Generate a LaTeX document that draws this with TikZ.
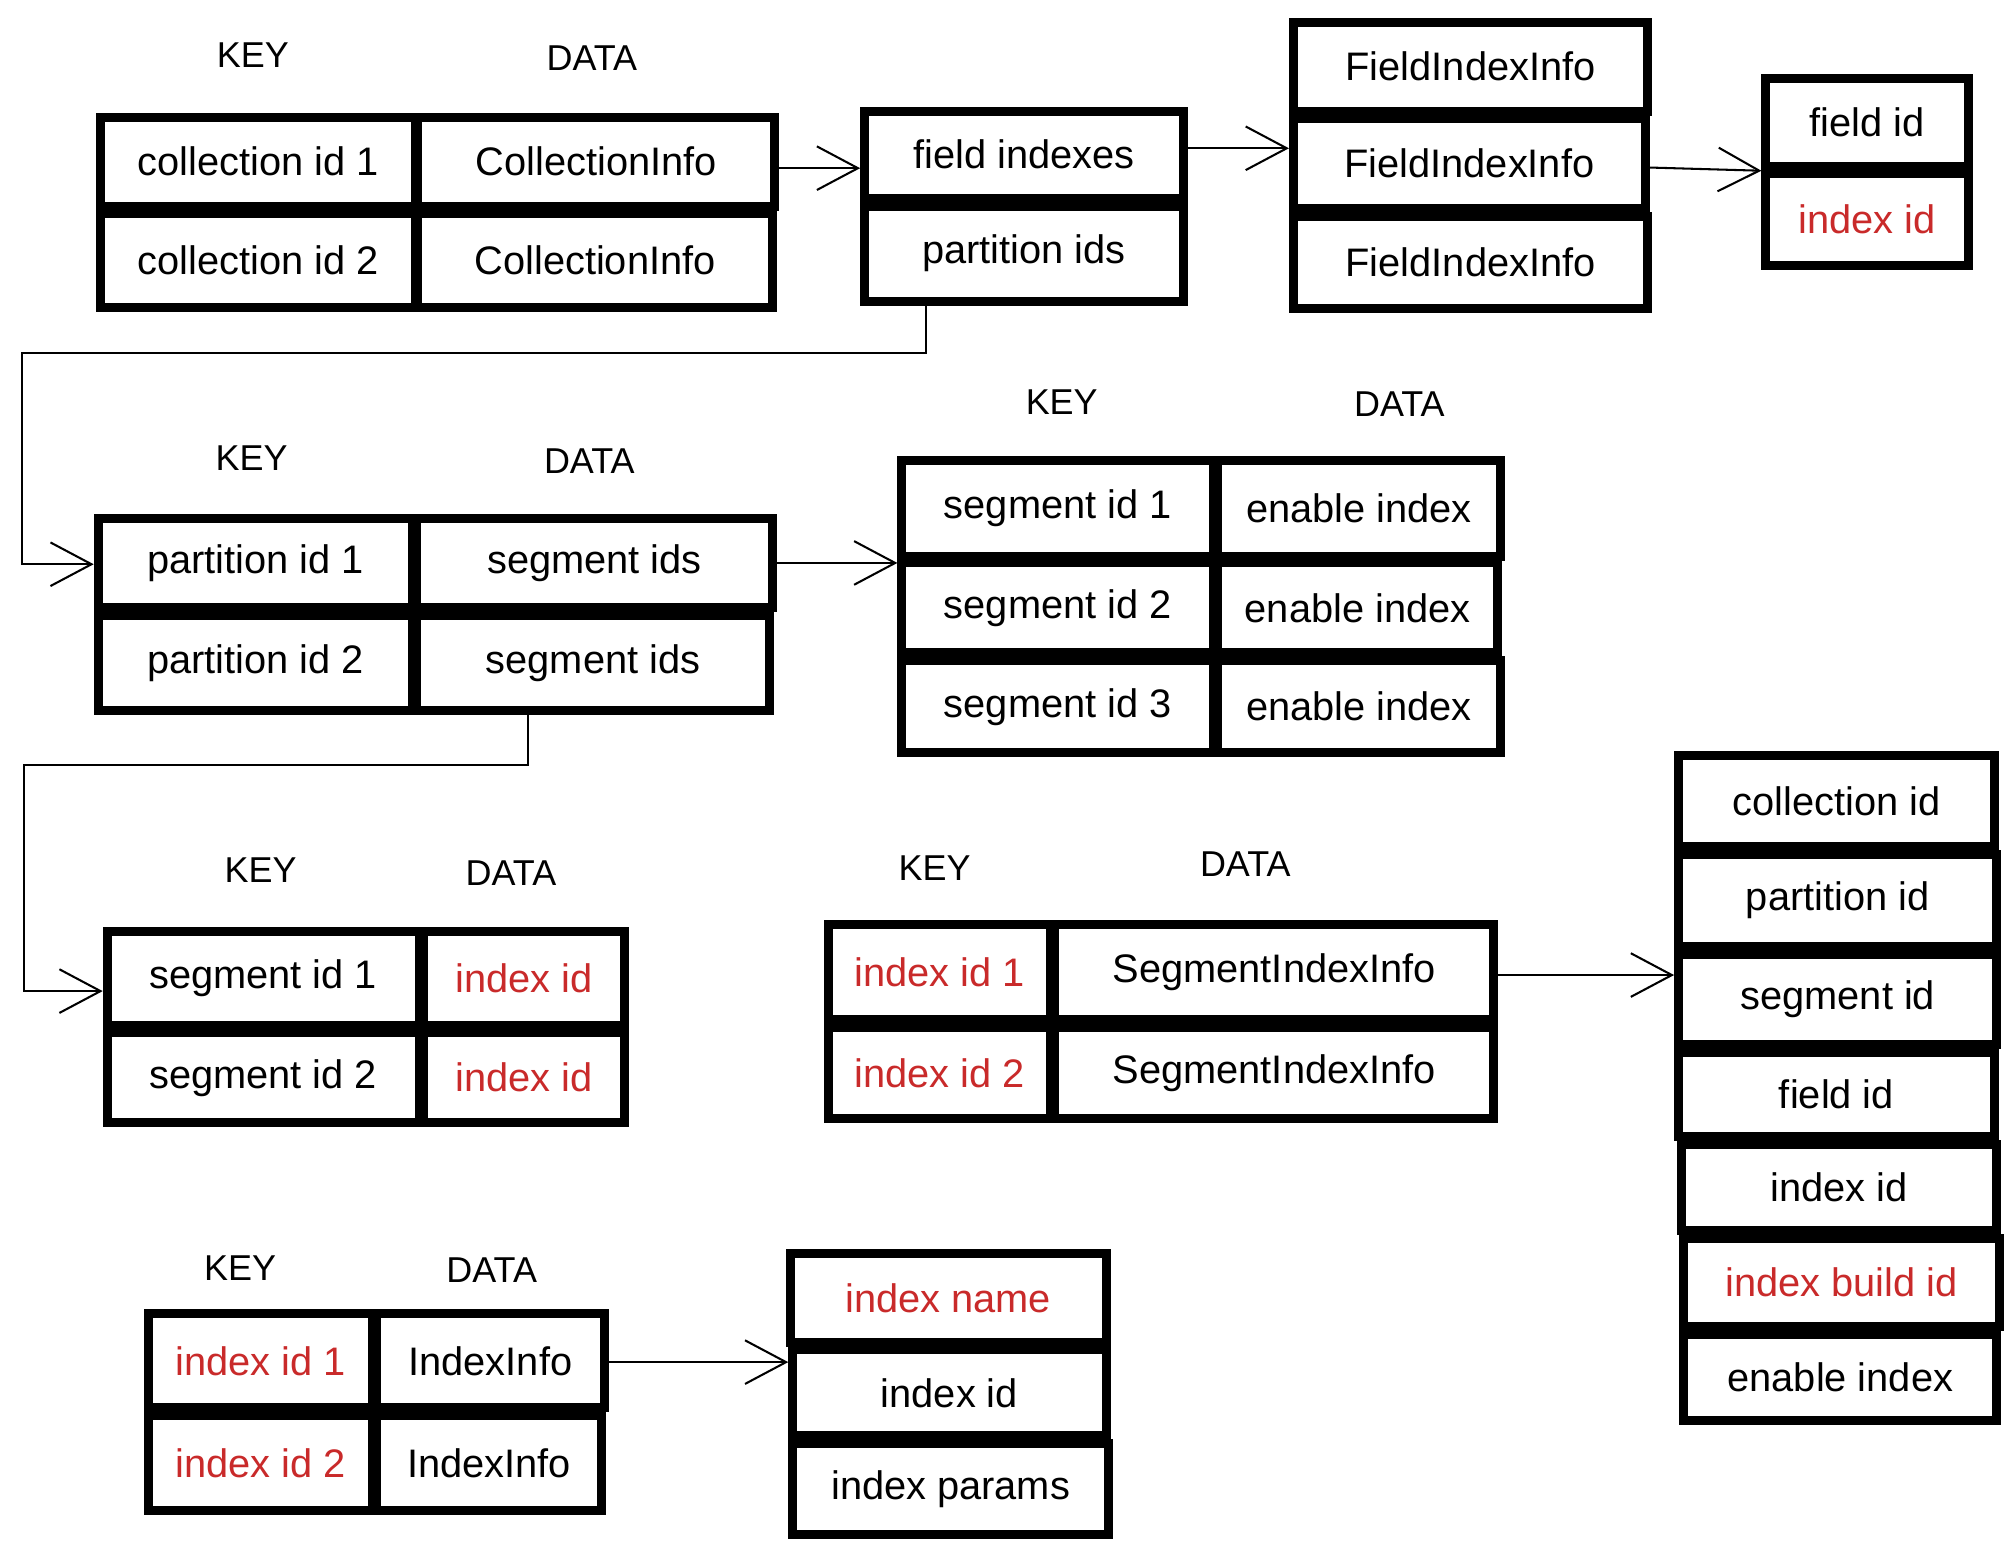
\documentclass[tikz,border=0pt]{standalone}
\usepackage{fontspec}
\setmainfont{Liberation Sans}
\usetikzlibrary{arrows.meta,calc}
\definecolor{exred}{HTML}{C92A2A}
\newcommand\cellbox[7][]{%
  \node[cellsty,#1,minimum width={(#5-#3)*1pt},minimum height={(#6-#4)*1pt}] (#2) at (#3,#4) {#7};}
\tikzset{
  cellsty/.style={draw=black,line width=7pt,anchor=north west,inner sep=0pt,
    font=\fontsize{31}{36}\selectfont},
  red/.style={text=exred},
  hdr/.style={font=\fontsize{28}{32}\selectfont},
  arr/.style={line width=1.6pt,-{Straight Barb[length=32pt,width=34pt,line width=1.6pt]}},
  wire/.style={line width=1.6pt}
}
\begin{document}
\begin{tikzpicture}[x=1pt,y=-1pt]
\useasboundingbox[fill=white] (0,0) rectangle (1568,1207);
% ---------- Table A: collections
\node[hdr] (kA) at (197,43) {KEY};
\node[hdr] (dA) at (461,45) {DATA};
\cellbox{a11}{75}{88}{320}{157}{collection id 1}
\cellbox{a12}{322}{88}{600}{157}{CollectionInfo}
\cellbox{a21}{75}{163}{320}{236}{collection id 2}
\cellbox{a22}{322}{163}{598}{236}{CollectionInfo}
% ---------- Table B
\cellbox{b1}{670}{83}{918}{151}{field indexes}
\cellbox{b2}{670}{157}{918}{231}{partition ids}
% ---------- Table C
\cellbox{c1}{1004}{14}{1280}{83}{FieldIndexInfo}
\cellbox{c2}{1004}{89}{1278}{159}{FieldIndexInfo}
\cellbox{c3}{1004}{165}{1280}{237}{FieldIndexInfo}
% ---------- Table D
\cellbox{d1}{1372}{58}{1530}{126}{field id}
\cellbox[red]{d2}{1372}{132}{1530}{203}{index id}
% ---------- Table E: partitions
\node[hdr] (kE) at (196,357) {KEY};
\node[hdr] (dE) at (459,359) {DATA};
\cellbox{e11}{73}{400}{318}{470}{partition id 1}
\cellbox{e12}{321}{400}{598}{470}{segment ids}
\cellbox{e21}{73}{476}{318}{550}{partition id 2}
\cellbox{e22}{321}{476}{596}{550}{segment ids}
% ---------- Table F: segments
\node[hdr] (kF) at (827,313) {KEY};
\node[hdr] (dF) at (1090,315) {DATA};
\cellbox{f11}{699}{355}{942}{430}{segment id 1}
\cellbox{f12}{945}{355}{1165}{430}{enable index}
\cellbox{f21}{699}{435}{942}{505}{segment id 2}
\cellbox{f22}{945}{435}{1163}{505}{enable index}
\cellbox{f31}{699}{511}{942}{583}{segment id 3}
\cellbox{f32}{945}{511}{1165}{583}{enable index}
% ---------- Table G
\node[hdr] (kG) at (203,678) {KEY};
\node[hdr] (dG) at (398,680) {DATA};
\cellbox{g11}{80}{722}{323}{795}{segment id 1}
\cellbox[red]{g12}{326}{722}{483}{795}{index id}
\cellbox{g21}{80}{801}{323}{871}{segment id 2}
\cellbox[red]{g22}{326}{801}{483}{871}{index id}
% ---------- Table H
\node[hdr] (kH) at (728,676) {KEY};
\node[hdr] (dH) at (970,673) {DATA};
\cellbox[red]{h11}{642}{717}{815}{791}{index id 1}
\cellbox{h12}{818}{717}{1160}{791}{SegmentIndexInfo}
\cellbox[red]{h21}{642}{797}{815}{868}{index id 2}
\cellbox{h22}{818}{797}{1160}{868}{SegmentIndexInfo}
% ---------- Table I: right stack
\cellbox{i1}{1304}{585}{1550}{656}{collection id}
\cellbox{i2}{1304}{662}{1552}{734}{partition id}
\cellbox{i3}{1304}{740}{1552}{810}{segment id}
\cellbox{i4}{1304}{816}{1550}{882}{field id}
\cellbox{i5}{1306}{888}{1552}{955}{index id}
\cellbox[red]{i6}{1308}{961}{1554}{1030}{index build id}
\cellbox{i7}{1308}{1036}{1552}{1103}{enable index}
% ---------- Table J
\node[hdr] (kJ) at (187,988) {KEY};
\node[hdr] (dJ) at (383,989) {DATA};
\cellbox[red]{j11}{112}{1020}{287}{1093}{index id 1}
\cellbox{j12}{290}{1020}{467}{1093}{IndexInfo}
\cellbox[red]{j21}{112}{1099}{287}{1173}{index id 2}
\cellbox{j22}{290}{1099}{465}{1173}{IndexInfo}
% ---------- Table K
\cellbox[red]{k1}{612}{973}{858}{1042}{index name}
\cellbox{k2}{614}{1048}{858}{1115}{index id}
\cellbox{k3}{614}{1121}{860}{1192}{index params}
% ---------- connectors
\coordinate (bendA) at (17,275);
\coordinate (bendB) at (19,596);
\draw[arr] ([yshift=-5pt]a12.east) -- ([yshift=-5pt]a12.east -| b1.west);
\draw[arr] ([yshift=5pt]b1.east) -- ([yshift=5pt]b1.east -| c2.west);
\draw[arr] ([yshift=-3pt]c2.east) -- (d1.south west);
\draw[arr] ([xshift=51pt]b2.south west) |- (bendA) |- ([yshift=-1pt]e11.west);
\draw[arr] (e12.east) -- (e12.east -| f11.south west);
\draw[arr] ([xshift=90pt]e22.south west) |- (bendB) |- ([yshift=-10pt]g11.west);
\draw[arr] ([yshift=-2pt]h12.east) -- ([yshift=-2pt]h12.east -| i3.west);
\draw[arr] ([yshift=-1pt]j12.east) -- ([yshift=-1pt]j12.east -| k2.west);
\end{tikzpicture}
\end{document}
